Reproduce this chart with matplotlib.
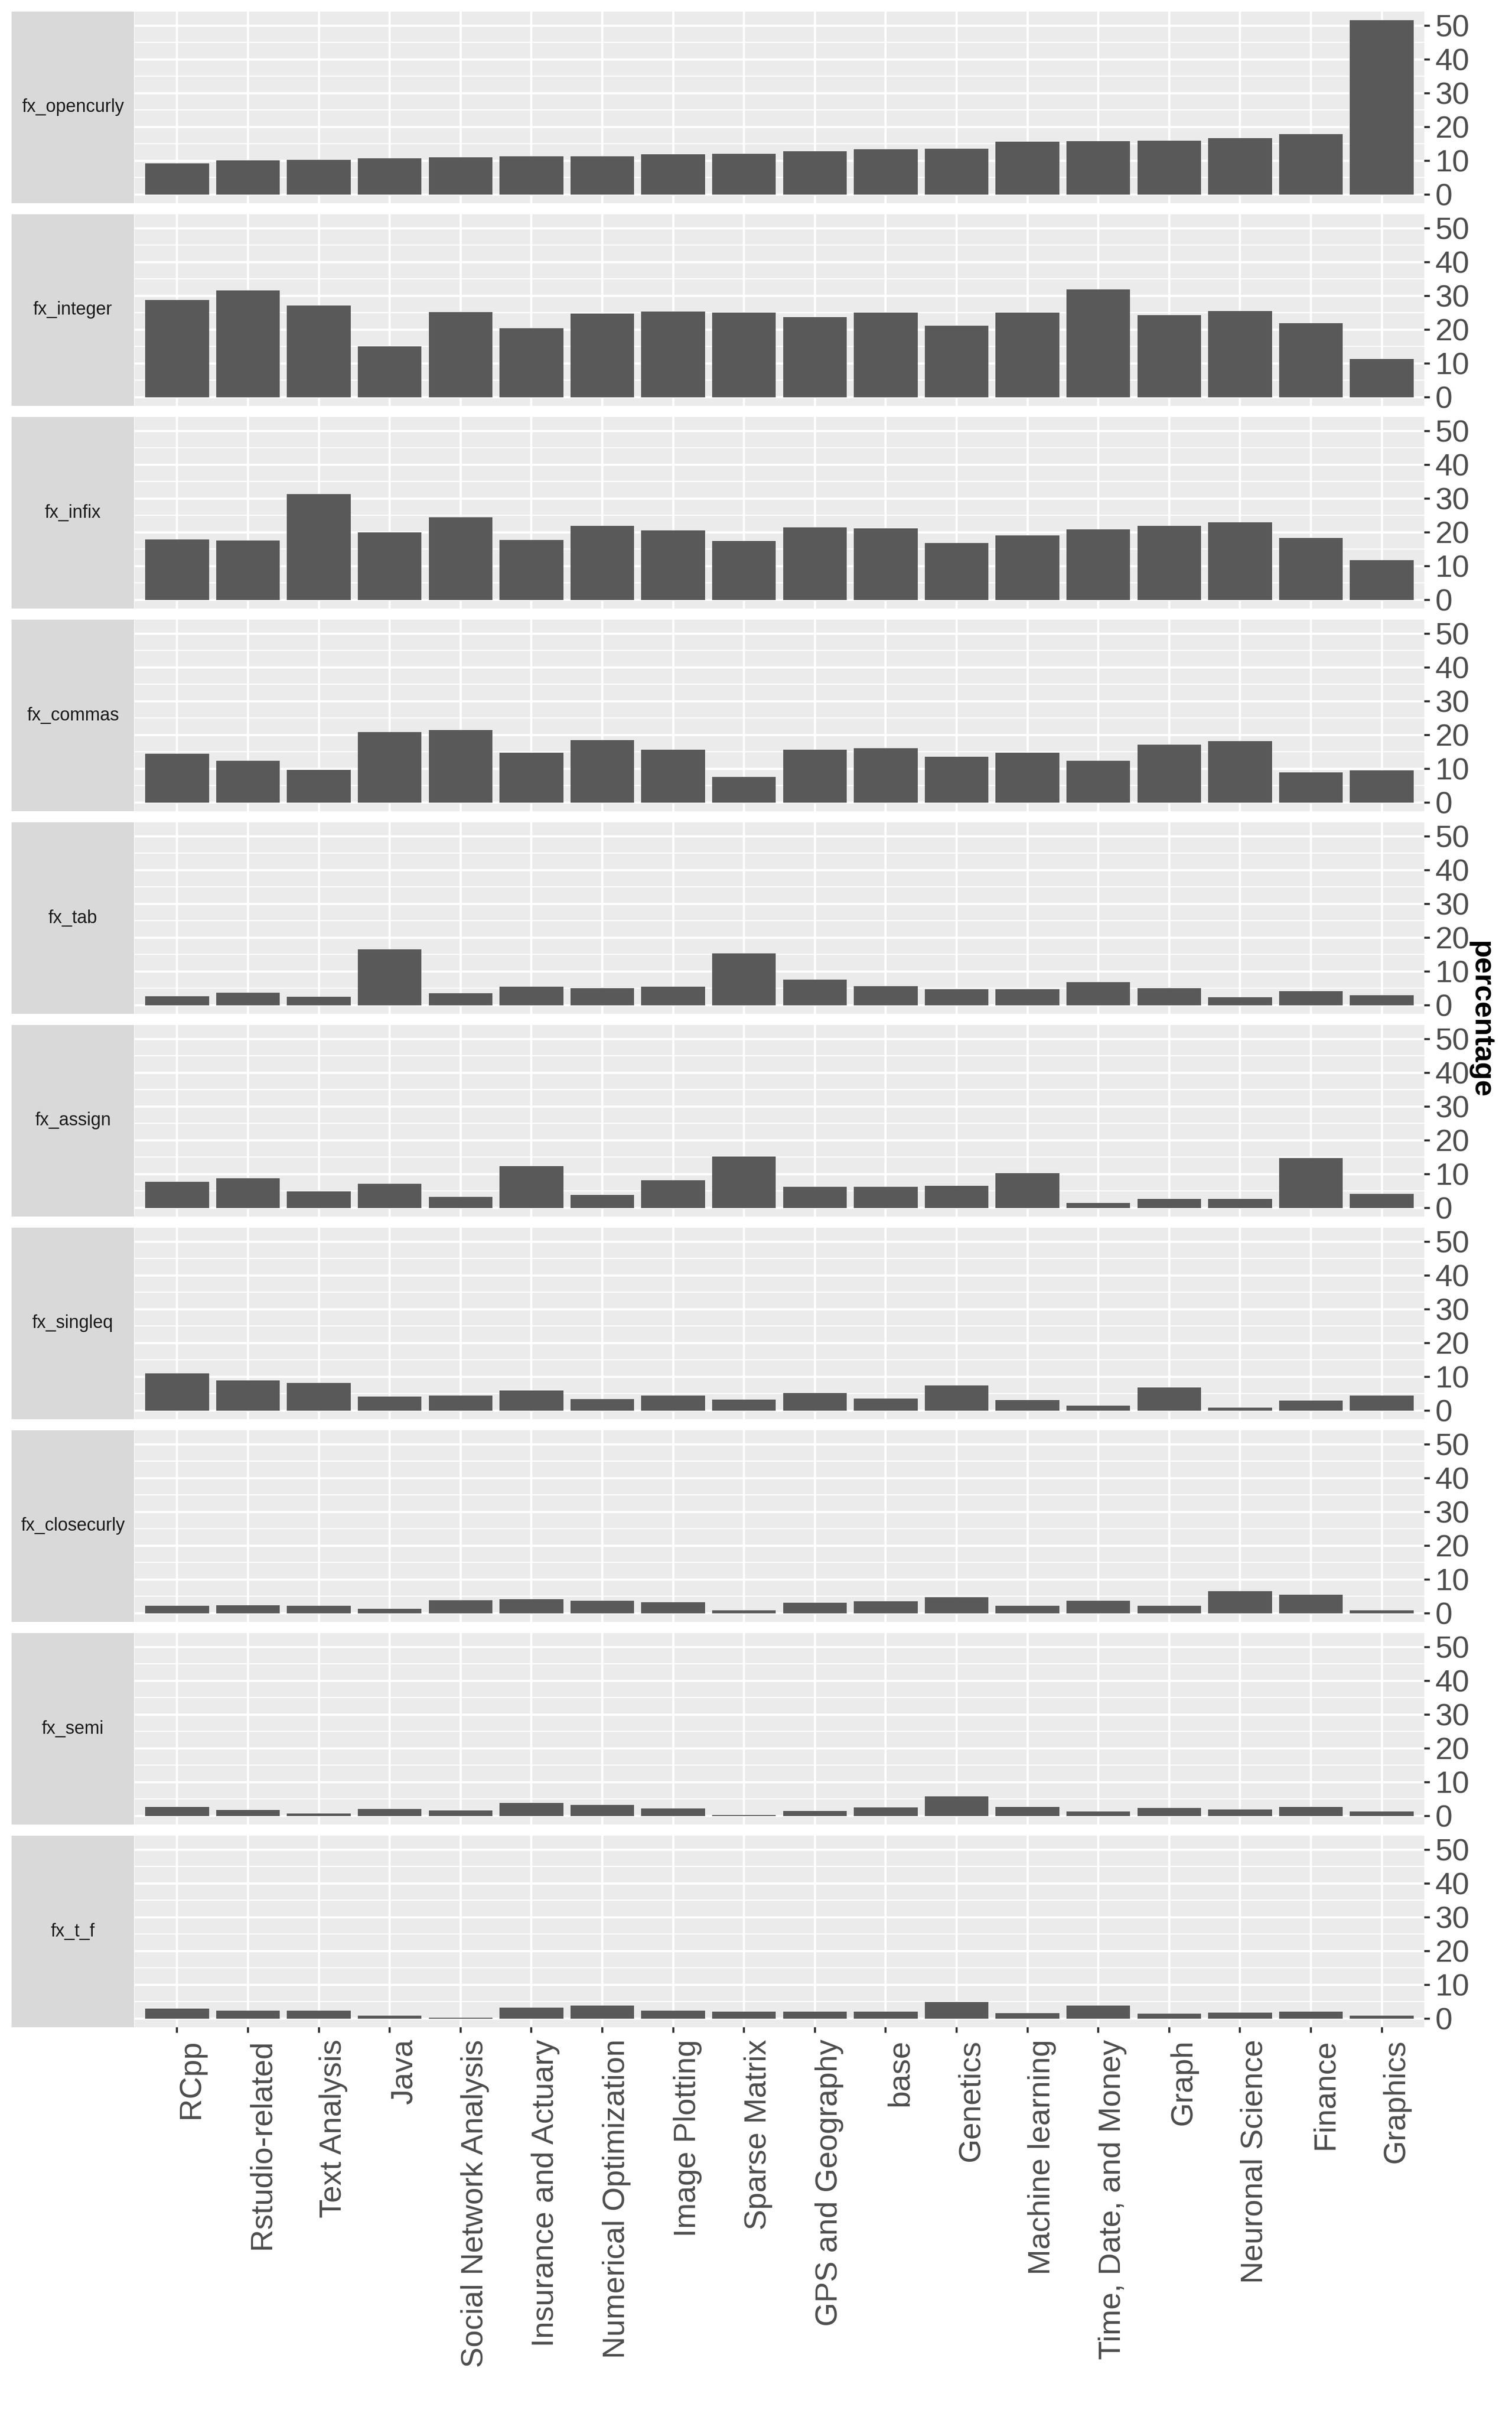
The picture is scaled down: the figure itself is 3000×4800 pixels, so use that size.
import numpy as np
import matplotlib
matplotlib.use("Agg")
import matplotlib.pyplot as plt

plt.rcParams['font.family'] = ['Liberation Sans', 'DejaVu Sans']

categories = ["RCpp", "Rstudio-related", "Text Analysis", "Java",
              "Social Network Analysis", "Insurance and Actuary",
              "Numerical Optimization", "Image Plotting", "Sparse Matrix",
              "GPS and Geography", "base", "Genetics", "Machine learning",
              "Time, Date, and Money", "Graph", "Neuronal Science",
              "Finance", "Graphics"]

features = ["fx_opencurly", "fx_integer", "fx_infix", "fx_commas", "fx_tab",
            "fx_assign", "fx_singleq", "fx_closecurly", "fx_semi", "fx_t_f"]

fx_opencurly = [9.2, 10.1, 10.3, 10.7, 11.0, 11.3, 11.3, 11.9, 12.1, 12.8,
                13.4, 13.6, 15.7, 15.8, 15.9, 16.7, 17.9, 51.6]
fx_integer = [28.8, 31.7, 27.2, 15.1, 25.2, 20.4, 24.8, 25.4, 25.0, 23.7,
              25.0, 21.2, 25.0, 31.9, 24.3, 25.5, 21.9, 11.3]
fx_infix = [17.9, 17.6, 31.4, 19.9, 24.5, 17.8, 21.9, 20.6, 17.5, 21.4,
            21.2, 16.9, 19.1, 20.9, 21.9, 22.9, 18.4, 11.8]
fx_commas = [14.5, 12.3, 9.7, 20.9, 21.5, 14.8, 18.5, 15.6, 7.6, 15.7,
             16.1, 13.6, 14.8, 12.4, 17.1, 18.2, 8.9, 9.5]
fx_tab = [2.6, 3.7, 2.5, 16.6, 3.5, 5.5, 5.0, 5.5, 15.4, 7.6,
          5.6, 4.8, 4.8, 6.8, 5.1, 2.3, 4.2, 2.9]
fx_assign = [7.7, 8.7, 4.9, 7.2, 3.3, 12.4, 3.8, 8.1, 15.2, 6.3,
             6.3, 6.5, 10.3, 1.4, 2.6, 2.7, 14.7, 4.2]
fx_singleq = [11.0, 8.9, 8.2, 4.2, 4.5, 5.9, 3.4, 4.5, 3.2, 5.2,
              3.6, 7.5, 3.1, 1.4, 6.8, 0.9, 2.9, 4.5]
fx_closecurly = [2.2, 2.4, 2.2, 1.3, 3.8, 4.2, 3.7, 3.2, 0.8, 3.1,
                 3.5, 4.7, 2.2, 3.7, 2.2, 6.5, 5.5, 0.9]
fx_semi = [2.7, 1.7, 0.7, 2.0, 1.6, 3.8, 3.2, 2.2, 0.2, 1.4,
           2.5, 5.8, 2.7, 1.3, 2.4, 1.9, 2.7, 1.3]
fx_t_f = [2.9, 2.3, 2.4, 0.8, 0.3, 3.2, 3.8, 2.4, 2.0, 2.1,
          2.0, 4.9, 1.6, 3.8, 1.4, 1.8, 2.1, 0.9]

values = [fx_opencurly, fx_integer, fx_infix, fx_commas, fx_tab,
          fx_assign, fx_singleq, fx_closecurly, fx_semi, fx_t_f]

W, H = 3000, 4800
fig = plt.figure(figsize=(10, 16), dpi=300)

# layout in pixels (ggplot facet_grid with strips on the left, axis on the right)
strip_l, strip_r = 23, 266
pan_l, pan_r = 267, 2826
top0, ph, gap = 23, 380, 22

ymax = max(max(v) for v in values)
ylo, yhi = -0.05 * ymax, ymax * 1.05
x = np.arange(len(categories))

for i, (name, vals) in enumerate(zip(features, values)):
    top = top0 + i * (ph + gap)
    bottom = top + ph
    ax = fig.add_axes([pan_l / W, 1 - bottom / H, (pan_r - pan_l) / W, ph / H])
    ax.set_facecolor('#EBEBEB')
    ax.bar(x, vals, width=0.9, color='#595959', zorder=3)
    ax.set_xlim(-0.6, len(categories) - 0.4)
    ax.set_ylim(ylo, yhi)
    ax.set_yticks([0, 10, 20, 30, 40, 50])
    ax.set_yticks([5, 15, 25, 35, 45], minor=True)
    ax.set_xticks(x)
    ax.grid(which='major', color='white', linewidth=1.05, zorder=1)
    ax.grid(which='minor', axis='y', color='white', linewidth=0.55, zorder=1)
    ax.tick_params(axis='y', which='minor', length=0)
    ax.yaxis.tick_right()
    ax.tick_params(axis='y', which='major', length=2.75, width=1.0, color='#333333',
                   labelsize=14.7, labelcolor='#4D4D4D', pad=2.5)
    ax.tick_params(axis='x', which='major', length=2.75, width=1.0, color='#333333',
                   labelsize=14.7, labelcolor='#4D4D4D', pad=3)
    for s in ax.spines.values():
        s.set_visible(False)
    if i == len(features) - 1:
        ax.set_xticklabels(categories, rotation=90, ha='left', va='top')
    else:
        ax.set_xticklabels([])
        ax.tick_params(axis='x', length=0)

    sax = fig.add_axes([strip_l / W, 1 - bottom / H, (strip_r - strip_l) / W, ph / H])
    sax.set_facecolor('#D9D9D9')
    sax.set_xticks([])
    sax.set_yticks([])
    for s in sax.spines.values():
        s.set_visible(False)
    sax.text(0.5, 0.5, name, transform=sax.transAxes, ha='center', va='center',
             fontsize=8.6, color='#1A1A1A')

mid = top0 + (10 * ph + 9 * gap) / 2
fig.text(2938 / W, 1 - mid / H, 'percentage', rotation=270, ha='center', va='center',
         fontsize=14, fontweight='bold', color='black')

fig.savefig('out.png', dpi=300, facecolor='white')
